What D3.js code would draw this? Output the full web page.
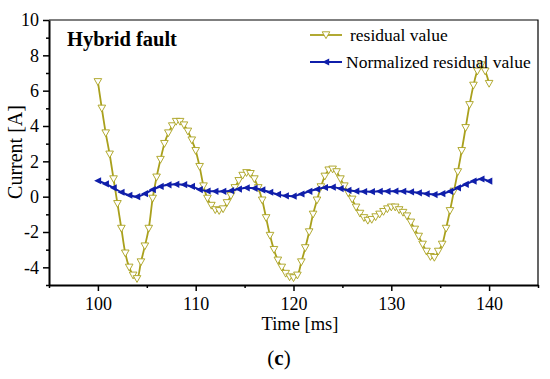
<!DOCTYPE html>
<meta charset="utf-8">
<style>
body { margin: 0; background: #fff; }
svg { display: block; font-family: "Liberation Serif", "DejaVu Serif", serif; }
.axis text { font-size: 18px; fill: #000; }
.axis path, .axis line { stroke: #000; }
</style>
<body>
<div id="chart"></div>
<script src="https://cdn.jsdelivr.net/npm/d3@7"></script>
<script>
// sampling of the two series (ms)
var residualStart = 100, residualStep = 0.4;
var normStart = 100, normStep = 0.8;

// residual value [A], one every 0.4 ms from 100 to 140 ms
var residual = [
  6.5, 5.0, 3.6, 2.4, 1.0, -0.4, -1.8, -3.2, -4.0, -4.45, -4.65,
  -3.7, -2.8, -1.8, -0.1, 1.1, 2.1, 3.0, 3.6, 4.0, 4.25,
  4.25, 4.05, 3.7, 3.2, 2.6, 1.7, 0.6, -0.1, -0.5, -0.75,
  -0.8, -0.7, -0.35, 0.05, 0.5, 0.9, 1.2, 1.35, 1.3, 1.0,
  0.5, -0.2, -1.2, -2.2, -3.0, -3.6, -4.0, -4.35, -4.55, -4.6,
  -4.45, -3.7, -2.9, -2.0, -1.0, -0.2, 0.55, 1.15, 1.5, 1.55,
  1.4, 1.0, 0.6, 0.2, -0.15, -0.6, -0.95, -1.2, -1.35, -1.3,
  -1.15, -1.0, -0.85, -0.7, -0.6, -0.6, -0.75, -0.9, -1.1, -1.45,
  -1.85, -2.25, -2.7, -3.1, -3.4, -3.45, -3.1, -2.7, -1.8, -0.8,
  0.3, 1.4, 2.6, 3.9, 5.2, 6.3, 7.1, 7.45, 7.1, 6.4
];

// normalized residual value [A], one every 0.8 ms from 100 to 140 ms
var normalized = [
  0.9, 0.72, 0.5, 0.25, 0.08, 0.0,
  0.17, 0.4, 0.58, 0.67, 0.7,
  0.68, 0.58, 0.4, 0.32, 0.3,
  0.3, 0.34, 0.43, 0.5, 0.47,
  0.38, 0.25, 0.13, 0.05, 0.03,
  0.15, 0.3, 0.42, 0.52, 0.54,
  0.46, 0.36, 0.31, 0.29, 0.28,
  0.3, 0.3, 0.31, 0.3, 0.27,
  0.22, 0.16, 0.12, 0.17, 0.3,
  0.5, 0.7, 0.88, 1.0, 0.88
];

var xTicks = [100, 110, 120, 130, 140];
var xMinor = [95, 105, 115, 125, 135, 145];
var yTicks = [-4, -2, 0, 2, 4, 6, 8, 10];
var yMinor = [-5, -3, -1, 1, 3, 5, 7, 9];
var seriesNames = ["residual value", "Normalized residual value"];

var olive = "#a9a01c", blue = "#0f1eaa";

var W = 550, H = 379;
var margin = { top: 20, right: 12, bottom: 94, left: 49 };
var width = W - margin.left - margin.right,
    height = H - margin.top - margin.bottom;

var svg = d3.select("#chart").append("svg")
    .attr("width", W)
    .attr("height", H);

var g = svg.append("g")
    .attr("transform", "translate(" + margin.left + "," + margin.top + ")");

var x = d3.scaleLinear().domain([95, 145]).range([0, width]);
var y = d3.scaleLinear().domain([-5, 10]).range([height, 0]);

// frame (top + right)
g.append("path")
    .attr("d", "M0,0H" + width + "V" + height)
    .attr("fill", "none")
    .attr("stroke", "#000")
    .attr("stroke-width", 1.2);

// minor ticks
g.append("g")
    .attr("class", "axis")
    .attr("transform", "translate(0," + height + ")")
    .call(d3.axisBottom(x).tickValues(xMinor).tickSize(3).tickFormat(""))
    .call(function(s) { s.select(".domain").remove(); })
    .selectAll("line").attr("stroke-width", 1.5);

g.append("g")
    .attr("class", "axis")
    .call(d3.axisLeft(y).tickValues(yMinor).tickSize(3).tickFormat(""))
    .call(function(s) { s.select(".domain").remove(); })
    .selectAll("line").attr("stroke-width", 1.5);

// major axes
var xAxis = g.append("g")
    .attr("class", "axis")
    .attr("transform", "translate(0," + height + ")")
    .call(d3.axisBottom(x).tickValues(xTicks).tickSize(6).tickSizeOuter(0).tickPadding(6));
xAxis.select(".domain").attr("stroke-width", 2);
xAxis.selectAll(".tick line").attr("stroke-width", 1.5);
xAxis.selectAll("text").attr("font-family", "Liberation Serif");

var yAxis = g.append("g")
    .attr("class", "axis")
    .call(d3.axisLeft(y).tickValues(yTicks).tickSize(6).tickSizeOuter(0).tickPadding(4)
        .tickFormat(function(d) { return d < 0 ? "-" + Math.abs(d) : d; }));
yAxis.select(".domain").attr("stroke-width", 2);
yAxis.selectAll(".tick line").attr("stroke-width", 1.5);
yAxis.selectAll("text").attr("font-family", "Liberation Serif").attr("font-size", 19);

// axis titles
svg.append("text")
    .attr("x", 300).attr("y", 330)
    .attr("text-anchor", "middle")
    .attr("font-size", 18.5)
    .text("Time [ms]");

svg.append("text")
    .attr("transform", "translate(22,152) rotate(-90)")
    .attr("text-anchor", "middle")
    .attr("font-size", 20)
    .text("Current [A]");

svg.append("text")
    .attr("x", 279).attr("y", 365)
    .attr("text-anchor", "middle")
    .attr("font-size", 21)
    .html("(<tspan font-weight='bold'>c</tspan>)");

g.append("text")
    .attr("x", 18).attr("y", 26)
    .attr("font-size", 20.5)
    .attr("font-weight", "bold")
    .text("Hybrid fault");

// series
var residualData = residual.map(function(v, i) { return { t: residualStart + i * residualStep, v: v }; });
var normData = normalized.map(function(v, i) { return { t: normStart + i * normStep, v: v }; });

var line = d3.line()
    .x(function(d) { return x(d.t); })
    .y(function(d) { return y(d.v); })
    .curve(d3.curveCatmullRom);

var downTri = "M-3.8,-3.2L3.8,-3.2L0,3.6Z";
var leftTri = "M-3.8,0L3.2,-3.6L3.2,3.6Z";

g.append("path")
    .datum(residualData)
    .attr("d", line)
    .attr("fill", "none")
    .attr("stroke", olive)
    .attr("stroke-width", 1.8);

g.selectAll(".res-pt")
    .data(residualData)
    .enter().append("path")
    .attr("class", "res-pt")
    .attr("d", downTri)
    .attr("transform", function(d) { return "translate(" + x(d.t) + "," + y(d.v) + ")"; })
    .attr("fill", "#fff")
    .attr("stroke", olive)
    .attr("stroke-width", 0.9);

g.append("path")
    .datum(normData)
    .attr("d", line)
    .attr("fill", "none")
    .attr("stroke", blue)
    .attr("stroke-width", 2);

g.selectAll(".norm-pt")
    .data(normData)
    .enter().append("path")
    .attr("class", "norm-pt")
    .attr("d", leftTri)
    .attr("transform", function(d) { return "translate(" + x(d.t) + "," + y(d.v) + ")"; })
    .attr("fill", blue);

// legend
var legend = svg.append("g");
var legendRows = [
  { name: seriesNames[0], color: olive, shape: downTri, fill: "#fff", y: 35, tx: 350 },
  { name: seriesNames[1], color: blue, shape: leftTri, fill: blue, y: 62, tx: 346 }
];
legendRows.forEach(function(r) {
  legend.append("line")
      .attr("x1", 310).attr("x2", 342)
      .attr("y1", r.y).attr("y2", r.y)
      .attr("stroke", r.color)
      .attr("stroke-width", r.fill === "#fff" ? 1.8 : 2);
  legend.append("path")
      .attr("d", r.shape)
      .attr("transform", "translate(326," + r.y + ")")
      .attr("fill", r.fill)
      .attr("stroke", r.fill === "#fff" ? r.color : "none")
      .attr("stroke-width", 0.9);
  legend.append("text")
      .attr("x", r.tx).attr("y", r.y + 6)
      .attr("font-size", 17.5)
      .text(r.name);
});
</script>
</body>
